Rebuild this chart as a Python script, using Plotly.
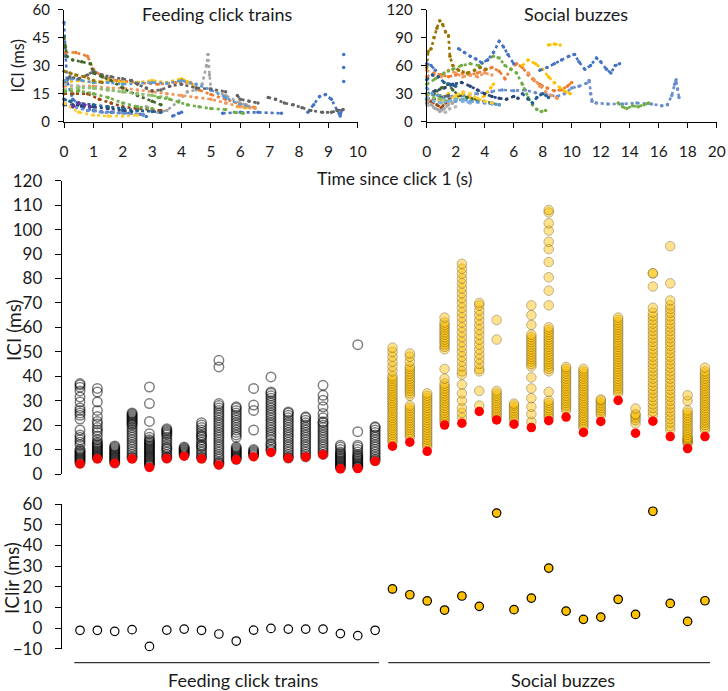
import plotly.graph_objects as go

# ---------------- data: top-left panel (feeding click trains: time s, ICI ms) ----------------
feed_blue = [(0, 53), (0.05, 35), (0.1, 22), (0.3, 12), (0.6, 8), (1.0, 6), (1.6, 5), (2.2, 4.5), (2.6, 4), (2.8, 2.8), None,
             (3.7, 3), (3.9, 4.5), (4.0, 5), None, (5.4, 4.5), (6.0, 5), (6.6, 5), (7.4, 4.5), None,
             (8.3, 5), (8.5, 9), (8.7, 13.5), (8.9, 14.5), (9.1, 12), (9.3, 6), (9.4, 3), (9.45, 6), None,
             (9.52, 21.5), None, (9.52, 29), None, (9.52, 36)]
feed_orange = [(0.05, 37), (0.4, 37), (0.8, 35), (1.0, 28), (1.3, 24), (1.8, 22), (2.5, 21), (3.2, 20), (3.8, 21), (4.3, 21),
               (4.6, 17), (5.0, 14.5), (5.5, 12), (6.0, 9.5), (6.5, 7.5)]
feed_gray = [(2.8, 8), (3.2, 5), (3.5, 6), (3.9, 11), (4.2, 16), (4.5, 17), (4.7, 20), (4.85, 30), (4.9, 36), (4.95, 25),
             (5.0, 17), (5.5, 14), (6.0, 10), (6.2, 9)]
feed_gold = [(0, 21), (0.5, 22), (1.0, 21), (1.5, 22), (2.0, 21), (2.5, 21), (3.0, 22), (3.5, 21), (4.0, 23), (4.2, 21.5), (4.4, 19),
             None, (5.9, 8), (6.2, 7.5)]
feed_lblue = [(0, 22), (0.3, 23), (0.6, 22), (1, 21), (1.5, 21), (2, 20), (2.5, 20.5), (3, 21), (3.5, 20.5), (4, 22), (4.5, 20),
              (5, 17), (5.5, 13), (6, 9), (6.3, 8)]
feed_green = [(0, 16), (0.5, 16.5), (1, 15), (1.5, 13), (2.0, 10), (2.5, 8), (3.0, 7), None, (3.2, 13), (3.6, 12), (3.9, 10.5),
              (4.2, 9), (4.6, 8), (5.0, 7), (5.5, 6.5), None, (5.8, 5), (6.1, 4.5)]
feed_navy = [(0, 9), (0.3, 9), (0.6, 8.5), (1, 8), (1.5, 7), (2, 6), (2.3, 5.5)]
feed_brown = [(0, 15), (0.3, 15), (0.8, 15), (1.2, 12), (1.6, 10), (2, 8), (2.5, 7), (3, 6.5), (3.3, 6)]
feed_dgray = [(0, 20), (0.2, 24), (0.5, 23), (0.8, 25), (1, 27), (1.3, 25), (1.6, 24), (2, 23), (2.3, 22), (2.5, 20), (2.8, 18),
              (3, 16.5), (3.3, 17), (3.6, 19), (4, 20), (4.5, 18), (5.0, 17.5), (5.5, 16), None, (5.9, 14), (6.0, 12), (6.3, 11),
              (6.6, 10), None, (6.95, 13), (7.2, 12), (7.5, 10), (7.8, 9), (8.1, 7.5), (8.4, 6), (8.8, 5), (9.1, 5), (9.3, 6), (9.5, 6.5)]
feed_dgold = [(0, 27), (0.2, 26), (0.4, 25), (0.7, 24), (1, 22), (1.3, 21)]
feed_mblue = [(0, 12), (0.2, 11), (0.5, 10), (1, 9), (1.5, 8), (2, 7), (2.5, 6), (3, 5.5), (3.3, 5)]
feed_dgreen = [(0, 45), (0.05, 40), (0.1, 35), (0.3, 33), (0.6, 32), (0.9, 31), (1.0, 26), (1.3, 24), (1.6, 22), (2.0, 18),
               (2.5, 14), (3.0, 11), (3.3, 9)]
feed_sblue = [(0, 10), (0.3, 8), (0.8, 6), (1.3, 5), (2, 4.5), (2.7, 4)]
feed_lorange = [(0, 19), (0.5, 19), (1, 19), (1.5, 18), (2, 18), (2.5, 17), (3, 16), (3.5, 15), (4, 14), (4.5, 13), (5, 12),
                (5.5, 10), (6, 8), (6.5, 7)]
feed_lgray = [(0, 20), (0.5, 19), (1, 18), (1.5, 17), (2, 16), (2.5, 15), (3.0, 14)]
feed_lgold = [(0, 10), (0.5, 5), (1, 3.5), (1.5, 3), (2, 3), (2.5, 3.5)]
feed_purple = [(0.3, 8), (0.5, 10), (0.7, 9), (0.9, 8)]
feed_lgreen = [(0, 17), (0.5, 18), (1, 18), (1.5, 17), (2, 16), (2.5, 15), (3, 14), (3.5, 13)]

feed_series = [(feed_blue, "#4472C4"), (feed_orange, "#ED7D31"), (feed_gray, "#A5A5A5"), (feed_gold, "#FFC000"),
               (feed_lblue, "#5B9BD5"), (feed_lorange, "#F1975A"), (feed_navy, "#264478"), (feed_brown, "#9E480E"),
               (feed_dgray, "#636363"), (feed_dgold, "#997300"), (feed_mblue, "#255E91"), (feed_dgreen, "#43682B"),
               (feed_sblue, "#698ED0"), (feed_lgray, "#B7B7B7"), (feed_lgold, "#FFCD33"), (feed_purple, "#7030A0"),
               (feed_lgreen, "#8CC168"), (feed_green, "#70AD47")]

# ---------------- data: top-right panel (social buzzes) ----------------
soc_dgold = [(0, 58), (0.1, 75), (0.3, 78), (0.5, 90), (0.7, 100), (0.9, 108), (1.1, 104), (1.3, 96), (1.5, 92), (1.6, 70),
             (1.8, 60), (2.2, 55), (2.8, 52), (3.3, 55), (3.7, 58), (4.1, 56)]
soc_blue = [(0, 62), (0.3, 60), (0.6, 55), None, (2.2, 78), (2.6, 74), (3.0, 70), (3.4, 67), (3.8, 63), (4.2, 66), (4.6, 74),
            (5.0, 86), (5.3, 80), (5.6, 72), (6.0, 62), None, (7.8, 55), (8.3, 58), (8.8, 62), (9.3, 66), (9.8, 70),
            (10.2, 72), (10.5, 64), (10.9, 56), (11.3, 60), (11.7, 68), (12.0, 64), (12.4, 56), (12.7, 52), (13.0, 60), (13.3, 62)]
soc_long = [(0, 30), (0.8, 28), (1.5, 27), (2.5, 28), (3.5, 30), (4.5, 32), (5.2, 34), (6.0, 33), (6.8, 34), (7.5, 31),
            (8.2, 29), (9.0, 27), (9.5, 30), (10.0, 36), (10.5, 38), (11.0, 41), (11.2, 44), (11.3, 30), (11.4, 22),
            (11.7, 20), (12.5, 19), (13.5, 19), (14.5, 20), (15.5, 19), (16.2, 17), (16.6, 18), (16.9, 28), (17.1, 40),
            (17.2, 45), (17.3, 35), (17.4, 26)]
soc_orange = [(0, 48), (0.5, 52), (1.0, 50), (1.5, 48), (2.0, 50), (2.5, 52), (3.0, 50), (3.5, 52), (4.0, 55), (4.5, 58),
              (5.0, 54), (5.4, 46), (5.8, 56), (6.2, 62), (6.6, 58), (7.0, 50), (7.4, 44), (7.8, 40), (8.3, 36), (8.8, 33),
              (9.3, 34), (9.7, 38), (10.0, 42)]
soc_gold = [(0, 28), (0.5, 32), (1.0, 26), (1.5, 30), (2.0, 24), (2.5, 30), (3.0, 26), (3.5, 22), (4.0, 28), (4.4, 36), (4.6, 40),
            None, (6.6, 60), (7.0, 66), (7.5, 62), (8.0, 56), (8.4, 48), (8.8, 42), (9.2, 36), (9.6, 32), (9.9, 30), None,
            (8.4, 82), (8.8, 83), (9.2, 82)]
soc_green = [(0, 40), (0.6, 46), (1.2, 52), (1.8, 56), (2.4, 60), (3.0, 62), (3.6, 60), (4.2, 66), (4.6, 70), (5.0, 68),
             (5.4, 60), (5.8, 56), (6.2, 52), (6.6, 40), (7.0, 26), (7.3, 18), (7.6, 13), (7.9, 11), (8.2, 12)]
soc_navy = [(0, 30), (0.6, 33), (1.2, 36), (1.8, 40), (2.4, 42), (3.0, 38), (3.5, 34), (4.0, 30), (4.5, 27), (5.0, 25),
            (5.5, 24), (6.0, 27), (6.3, 25)]
soc_dgreen = [(0, 24), (0.5, 30), (1.0, 36), (1.5, 40), (1.8, 34), (2.2, 28), (2.8, 26), (3.4, 24), (4.0, 22), (4.5, 20), (5.0, 18)]
soc_gray = [(0, 22), (0.3, 18), (0.6, 14), (0.9, 11), (1.2, 14), (1.5, 18), (1.8, 20)]
soc_lblue = [(0, 36), (0.4, 30), (0.8, 28), (1.2, 26), (1.6, 24), (2.0, 22), (2.5, 24), (3.0, 22), (3.5, 21), (4.0, 20),
             (4.5, 19), (5.0, 18)]
soc_brown = [(0, 20), (0.3, 22), (0.7, 18), (1.0, 15), (1.3, 20), (1.6, 24)]
soc_mblue = [(0, 45), (0.4, 50), (0.8, 48), (1.2, 42), (1.6, 40), (2.0, 38), None, (6.6, 30), (7.0, 24), (7.3, 20), (7.6, 26),
             (8.0, 30), (8.4, 26)]
soc_lorange = [(0, 55), (0.5, 50), (1.0, 48), (1.5, 55), (2.0, 52), (2.5, 48), (3.0, 50), (3.5, 48), (4.0, 52), (4.5, 50), None,
               (7.0, 52), (7.4, 45), (7.8, 38), (8.2, 32), (8.6, 28), (9.0, 25)]
soc_lgold = [(0, 20), (0.5, 25), (1, 22), (1.5, 20), (2, 28), (2.5, 32), (3, 30), (3.5, 25), (4, 22), (4.5, 20)]
soc_lgreen = [(0, 30), (0.5, 26), (1, 24), (1.5, 22), (2, 24), (2.5, 22)]
soc_late = [(13.2, 20), (13.5, 16), (13.8, 14), (14.2, 17), (14.6, 16), (15.0, 18), (15.3, 20)]
soc_sblue = [(0, 26), (0.5, 22), (1, 20), (1.5, 22), (2, 24), (2.5, 22), (3, 20)]
soc_lgray = [(0, 18), (0.5, 15), (1, 12), (1.3, 10), (1.6, 14), (2, 16)]
soc_dgray = [(0, 25), (0.5, 24), (1, 26), (1.5, 28)]

soc_series = [(soc_long, "#698ED0"), (soc_orange, "#ED7D31"), (soc_lorange, "#F1975A"), (soc_gold, "#FFC000"),
              (soc_green, "#70AD47"), (soc_late, "#70AD47"), (soc_blue, "#4472C4"), (soc_dgold, "#997300"),
              (soc_navy, "#264478"), (soc_dgreen, "#43682B"), (soc_mblue, "#255E91"), (soc_lblue, "#5B9BD5"),
              (soc_lgold, "#FFCD33"), (soc_brown, "#9E480E"), (soc_dgray, "#636363"), (soc_lgreen, "#8CC168"),
              (soc_sblue, "#7CAFDD"), (soc_lgray, "#B7B7B7"), (soc_gray, "#A5A5A5")]

# ---------------- data: middle panel, ICI per train (ms) ----------------
feed_ici = [
    [4.5, 5, 5.5, 6, 6.5, 7, 7.5, 8, 8.5, 9, 9.5, 10, 12, 13, 14, 15, 16, 18, 22.5, 24, 25, 26, 27, 29.5, 31.5, 34, 35.5, 36.5, 37],
    [6.5, 7, 7.5, 8, 8.5, 9, 9.5, 10, 10.5, 11, 11.5, 12, 12.5, 13, 14, 15.5, 17, 18, 19, 20.5, 21.5, 23.5, 26, 29.5, 33.5, 35],
    [4.5, 5, 5.5, 6, 6.5, 7, 7.5, 8, 8.5, 9, 9.5, 10, 10.5, 11, 11.5],
    [6.5, 7, 8, 9, 10, 11, 12, 13, 14, 15, 16, 17, 18, 19, 20, 20.5, 21, 21.5, 22, 22.5, 23, 23.5, 24, 24.5, 25],
    [3.5, 4, 4.5, 5, 5.5, 6, 6.5, 7, 7.5, 8, 8.5, 9, 9.5, 10, 10.5, 11, 11.5, 12, 12.5, 13, 13.5, 14, 15, 16.5, 21.5, 28.8, 35.6],
    [6.5, 7, 8, 9, 10, 10.5, 11, 12, 13, 14, 15, 16, 16.5, 17, 17.5, 18, 18.5],
    [7.8, 8.2, 8.6, 9, 9.4, 9.8, 10.2, 10.6, 11],
    [6.5, 7, 8, 9, 10, 11, 11.5, 12, 13, 14, 15, 15.5, 16, 17, 18, 19, 20, 21],
    [4, 4.5, 5, 6, 7, 8, 9, 10, 11, 12, 13, 14, 15, 16, 17, 18, 19, 20, 21, 22, 23, 24, 25, 26, 27, 28, 28.8, 43.8, 46.5],
    [6, 6.5, 7, 7.5, 8, 8.5, 9, 9.5, 10, 10.5, 11, 15, 16, 17, 18, 19, 20, 21, 22, 23, 24, 25, 26, 27, 27.5],
    [7.5, 8, 8.5, 9, 9.5, 10, 18, 26, 28.2, 35],
    [9.5, 10, 11, 12, 12.5, 14, 15, 16, 17, 18, 19, 20, 21, 22, 23, 24, 25, 26, 27, 28, 29, 30, 31, 32, 33, 33.6, 39.7],
    [6.5, 7, 8, 9, 10, 11, 12, 13, 14, 15, 16, 17, 18, 19, 20, 21, 22, 23, 24, 25, 25.4],
    [7, 8, 9, 10, 11, 12, 13, 14, 15, 16, 17, 18, 19, 20, 21, 22, 23, 23.4],
    [8, 9, 10, 11, 12, 13, 14, 15, 16, 17, 18, 19, 20, 21, 21.4, 23, 24.8, 27.5, 30.2, 32.2, 36.3],
    [2.5, 3, 3.5, 4, 4.5, 5, 5.5, 6, 6.5, 7, 7.5, 8, 8.5, 9, 10, 11, 11.8],
    [2.8, 3, 3.5, 4, 4.5, 5, 5.5, 6, 6.5, 7, 7.5, 8, 9, 10, 11, 11.8, 17.3, 52.9],
    [5.5, 6, 7, 8, 9, 10, 11, 12, 13, 14, 15, 16, 17, 18, 19, 19.3],
]
soc_ici = [
    [13, 14, 15, 16, 17, 18, 19, 20, 21, 22, 23, 24, 25, 26, 27, 28, 29, 30, 31, 32, 33, 34, 35, 36, 37, 38, 39, 40, 42, 44, 46, 48, 50, 51.7],
    [15, 16, 17, 18, 19, 20, 21, 22, 23, 24, 25, 26, 27, 28, 32, 33, 34, 35, 36, 37, 38, 39, 40, 41, 42, 43, 44, 46, 48, 49.3],
    [11, 12, 13, 14, 15, 16, 17, 18, 19, 20, 21, 22, 23, 24, 25, 26, 27, 28, 29, 30, 31, 32, 33],
    [21, 22, 23, 24, 25, 26, 27, 28, 29, 30, 31, 32, 33, 34, 35, 36, 37, 39, 43, 51, 52, 53, 54, 55, 56, 57, 58, 59, 60, 61, 62, 64],
    [23, 25, 27, 30, 33, 36.6, 40.7, 42, 44, 46, 48, 50, 52, 54, 56, 58, 60, 62, 64, 66, 68, 70, 72, 74, 76, 78, 80, 82, 84, 86],
    [28, 34, 42, 43, 45, 47, 49, 51, 53, 55, 57, 59, 61, 63, 65, 67, 69, 70],
    [23, 24, 25, 26, 27, 28, 29, 30, 31, 32, 33, 34, 55, 63],
    [22, 23, 24, 25, 26, 27, 28, 28.8],
    [21.4, 24.5, 27.5, 31, 35, 39.5, 44, 45, 46, 47, 48, 49, 50, 51, 52, 53, 54, 55, 56, 57, 61, 65, 69],
    [23, 24, 25, 26, 27, 28, 29, 30, 33.6, 42, 43, 44, 45, 46, 47, 48, 49, 50, 51, 52, 53, 54, 55, 56, 57, 58, 59, 60, 69, 75, 80.5,
     86.7, 92, 95, 99.6, 102.6, 107, 108],
    [26, 27, 28, 29, 30, 31, 32, 33, 34, 35, 36, 37, 38, 39, 40, 41, 42, 43, 43.8],
    [19, 20, 21, 22, 23, 24, 25, 26, 27, 28, 29, 30, 31, 32, 33, 34, 35, 36, 37, 38, 39, 40, 41, 42, 43],
    [24, 25, 26, 27, 28, 29, 30, 30.5],
    [33, 34, 35, 36, 37, 38, 39, 40, 41, 42, 43, 44, 45, 46, 47, 48, 49, 50, 51, 52, 53, 54, 55, 56, 57, 58, 59, 60, 61, 62, 63, 64],
    [20.7, 22, 23, 24, 24.5, 26.8],
    [24, 25.5, 27, 28.5, 30, 31.5, 33, 34.5, 36, 37.5, 39, 40.5, 42, 43.5, 45, 46.5, 48, 49.5, 51, 52.5, 54, 55.5, 57, 58.5, 60,
     61.5, 63, 64.5, 66, 68, 76.7, 82, 82.2],
    [18, 19.5, 21, 22.5, 24, 25.5, 27, 28.5, 30, 31.5, 33, 34.5, 36, 37.5, 39, 40.5, 42, 43.5, 45, 46.5, 48, 49.5, 51, 52.5, 54,
     55.5, 57, 58.5, 60, 61.5, 63, 64.5, 66, 67.5, 69, 71, 78, 93.2],
    [12.5, 13, 13.5, 14, 14.5, 15, 16, 17, 18, 19, 20, 21, 22, 23, 24, 25, 26, 29.9, 32.2],
    [18, 19, 20, 21, 22, 23, 24, 25, 26, 27, 28, 29, 30, 31, 32, 33, 34, 35, 36, 37, 38, 39, 40, 41, 42, 43.5],
]
feed_min_ici = [4.1, 6.2, 4.4, 6.2, 2.7, 6.3, 7.3, 6.2, 3.7, 5.8, 7.1, 8.8, 6.4, 7.0, 7.9, 2.1, 2.2, 5.2]
soc_min_ici = [11.4, 13.0, 9.3, 20.0, 20.8, 25.6, 22.1, 20.4, 19.0, 21.8, 23.3, 17.0, 21.5, 30.1, 16.7, 21.6, 15.3, 10.4, 15.3]

# ---------------- data: bottom panel, ICIir (ms) ----------------
feed_iclir = [-1.1, -1.1, -1.6, -0.8, -8.9, -1.0, -0.5, -1.1, -2.9, -6.3, -1.0, -0.2, -0.5, -0.5, -0.5, -2.7, -3.7, -1.1]
soc_iclir = [18.9, 16.1, 13.1, 8.7, 15.5, 10.5, 55.6, 8.9, 14.5, 29.0, 8.2, 4.2, 5.3, 13.9, 6.6, 56.5, 11.9, 3.2, 13.2]

group_labels = ["Feeding click trains", "Social buzzes"]

FONT = "Lato"
TXT = "#1a1a1a"
W, H = 728, 691

fig = go.Figure()


def unpack(pts):
    xs, ys = [], []
    for p in pts:
        if p is None:
            xs.append(None)
            ys.append(None)
        else:
            xs.append(p[0])
            ys.append(p[1])
    return xs, ys


for pts, col in feed_series:
    xs, ys = unpack(pts)
    fig.add_trace(go.Scatter(x=xs, y=ys, xaxis="x", yaxis="y", mode="lines+markers",
                             line=dict(color=col, width=2.6, dash="dot"),
                             marker=dict(color=col, size=3.5), cliponaxis=False, showlegend=False,
                             hoverinfo="skip"))
for pts, col in soc_series:
    xs, ys = unpack(pts)
    fig.add_trace(go.Scatter(x=xs, y=ys, xaxis="x2", yaxis="y2", mode="lines+markers",
                             line=dict(color=col, width=2.6, dash="dot"),
                             marker=dict(color=col, size=3.5), cliponaxis=False, showlegend=False,
                             hoverinfo="skip"))

# middle panel
n_feed = len(feed_ici)
fx, fy = [], []
for i, col in enumerate(feed_ici):
    fx += [i] * len(col)
    fy += col
sx, sy = [], []
for j, col in enumerate(soc_ici):
    sx += [n_feed + j] * len(col)
    sy += col

fig.add_trace(go.Scatter(x=fx, y=fy, xaxis="x3", yaxis="y3", mode="markers",
                         marker=dict(symbol="circle-open", size=9.5, color="black", opacity=0.5,
                                     line=dict(width=1.5)),
                         cliponaxis=False, showlegend=False, hoverinfo="skip"))
fig.add_trace(go.Scatter(x=sx, y=sy, xaxis="x3", yaxis="y3", mode="markers",
                         marker=dict(symbol="circle", size=9.5, color="#FFC000", opacity=0.45,
                                     line=dict(width=1, color="#6B5000")),
                         cliponaxis=False, showlegend=False, hoverinfo="skip"))
fig.add_trace(go.Scatter(x=list(range(n_feed)) + [n_feed + j for j in range(len(soc_min_ici))],
                         y=feed_min_ici + soc_min_ici, xaxis="x3", yaxis="y3", mode="markers",
                         marker=dict(symbol="circle", size=9.5, color="#FF0000", line=dict(width=0)),
                         cliponaxis=False, showlegend=False, hoverinfo="skip"))

# bottom panel
fig.add_trace(go.Scatter(x=list(range(n_feed)), y=feed_iclir, xaxis="x4", yaxis="y4", mode="markers",
                         marker=dict(symbol="circle", size=8.5, color="white", line=dict(width=1.2, color="black")),
                         cliponaxis=False, showlegend=False, hoverinfo="skip"))
fig.add_trace(go.Scatter(x=[n_feed + j for j in range(len(soc_iclir))], y=soc_iclir, xaxis="x4", yaxis="y4",
                         mode="markers",
                         marker=dict(symbol="circle", size=8.5, color="#FFC000", line=dict(width=1.2, color="black")),
                         cliponaxis=False, showlegend=False, hoverinfo="skip"))


def px_x(p):
    return p / W


def px_y(p):
    return 1 - p / H


axis_common = dict(showline=True, linecolor="black", linewidth=1, ticks="outside", tickcolor="black",
                   showgrid=False, zeroline=False, automargin=False, ticklabeloverflow="allow",
                   tickfont=dict(family=FONT, size=15.5, color=TXT))

xr_lo = -1.054
xr_hi = (722 - 80) / 17.36
TOP_Y0, TOP_Y1 = 121.7, 9.5

fig.update_layout(
    width=W, height=H, margin=dict(l=0, r=0, t=0, b=0, autoexpand=False),
    paper_bgcolor="white", plot_bgcolor="rgba(0,0,0,0)",
    font=dict(family=FONT, color=TXT),
    xaxis=dict(axis_common, domain=[px_x(64), px_x(357.8)], range=[0, 10], dtick=1, anchor="y", ticklen=5,
               ticklabelstandoff=11),
    yaxis=dict(axis_common, domain=[px_y(TOP_Y0), px_y(TOP_Y1)], range=[0, 60], dtick=15, anchor="x", ticklen=5,
               ticklabelstandoff=5, tickfont=dict(family=FONT, size=15, color=TXT)),
    xaxis2=dict(axis_common, domain=[px_x(426.7), px_x(716.7)], range=[0, 20], dtick=2, anchor="y2", ticklen=5,
                ticklabelstandoff=11),
    yaxis2=dict(axis_common, domain=[px_y(TOP_Y0), px_y(TOP_Y1)], range=[0, 120], dtick=30, anchor="x2", ticklen=5,
                ticklabelstandoff=5, tickfont=dict(family=FONT, size=15, color=TXT)),
    xaxis3=dict(domain=[px_x(61.7), px_x(722)], range=[xr_lo, xr_hi], visible=False, anchor="y3", automargin=False),
    yaxis3=dict(axis_common, domain=[px_y(474), px_y(180.7)], range=[0, 120], dtick=10, anchor="x3", ticklen=6,
                ticklabelstandoff=9, tickfont=dict(family=FONT, size=17, color=TXT)),
    xaxis4=dict(domain=[px_x(61.7), px_x(722)], range=[xr_lo, xr_hi], visible=False, anchor="y4", automargin=False),
    yaxis4=dict(axis_common, domain=[px_y(648.7), px_y(504)], range=[-10, 60], dtick=10, anchor="x4", ticklen=6,
                ticklabelstandoff=9, tickfont=dict(family=FONT, size=17, color=TXT)),
)

ann = [
    dict(text=group_labels[0], x=px_x(217), y=px_y(13.5), size=18, angle=0),
    dict(text=group_labels[1], x=px_x(575.6), y=px_y(13.5), size=18, angle=0),
    dict(text="Time since click 1 (s)", x=px_x(395), y=px_y(178.5), size=17.5, angle=0),
    dict(text="ICI (ms)", x=px_x(17), y=px_y(65.5), size=16.5, angle=-90),
    dict(text="ICI (ms)", x=px_x(13), y=px_y(330), size=19, angle=-90),
    dict(text="IClir (ms)", x=px_x(11), y=px_y(578), size=19, angle=-90),
    dict(text=group_labels[0], x=px_x(243.3), y=px_y(680), size=18, angle=0),
    dict(text=group_labels[1], x=px_x(562.5), y=px_y(680), size=18, angle=0),
]
for a in ann:
    fig.add_annotation(text=a["text"], x=a["x"], y=a["y"], xref="paper", yref="paper", showarrow=False,
                       textangle=a["angle"], xanchor="center", yanchor="middle",
                       font=dict(family=FONT, size=a["size"], color=TXT))

for x0, x1 in [(74.3, 379), (388.3, 710)]:
    fig.add_shape(type="line", xref="paper", yref="paper", x0=px_x(x0), x1=px_x(x1), y0=px_y(662.7), y1=px_y(662.7),
                  line=dict(color="black", width=1))

fig.write_html("out.html", config={"displayModeBar": False, "staticPlot": True},
               post_script="document.body.style.margin='0';document.body.style.padding='0';document.body.style.overflow='hidden';")
